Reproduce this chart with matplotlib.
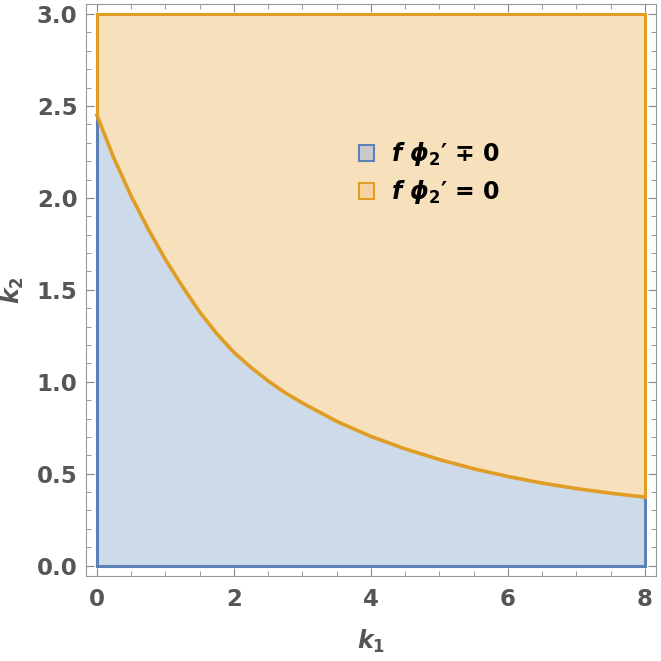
import matplotlib
matplotlib.use("Agg")
import matplotlib.pyplot as plt
from matplotlib.patches import Patch
from matplotlib.ticker import MultipleLocator

# boundary curve
k1_vals = [0.0, 0.25, 0.5, 0.75, 1.0, 1.25, 1.5, 1.75, 2.0, 2.25, 2.5, 2.75, 3.0,
           3.5, 4.0, 4.5, 5.0, 5.5, 6.0, 6.5, 7.0, 7.5, 8.0]
k2_vals = [2.45, 2.215, 2.01, 1.83, 1.665, 1.518, 1.38, 1.262, 1.16, 1.078, 1.005, 0.94, 0.885,
           0.785, 0.703, 0.635, 0.577, 0.527, 0.485, 0.449, 0.419, 0.394, 0.373]
k2_top = 3.0
legend_labels = [r"$f\ \phi_{\mathrm{2}}$′ ∓ 0",
                 r"$f\ \phi_{\mathrm{2}}$′ = 0"]

blue_edge = "#5e81b5"
blue_fill = "#cddaea"
orange_edge = "#e19c24"
orange_fill = "#f7e1bd"
gray = "#555555"

plt.rcParams["mathtext.fontset"] = "custom"
plt.rcParams["mathtext.it"] = "DejaVu Sans:italic:bold"
plt.rcParams["mathtext.rm"] = "DejaVu Sans:bold"
plt.rcParams["mathtext.bf"] = "DejaVu Sans:bold"

fig = plt.figure(figsize=(6.61, 6.61), dpi=100)
ax = fig.add_axes([0.130, 0.129, 0.862, 0.865])

# regions
ax.fill_between(k1_vals, 0, k2_vals, color=blue_fill, lw=0)
ax.fill_between(k1_vals, k2_vals, k2_top, color=orange_fill, lw=0)

# blue outline
ax.plot([0, 0], [k2_vals[0], 0], color=blue_edge, lw=2.2)
ax.plot([0, 8], [0, 0], color=blue_edge, lw=2.2)
ax.plot([8, 8], [0, k2_vals[-1]], color=blue_edge, lw=2.2)
# orange outline
ax.plot([0, 0], [k2_vals[0], k2_top], color=orange_edge, lw=2.2)
ax.plot([0, 8], [k2_top, k2_top], color=orange_edge, lw=2.2)
ax.plot([8, 8], [k2_vals[-1], k2_top], color=orange_edge, lw=2.2)
ax.plot(k1_vals, k2_vals, color=orange_edge, lw=2.6, solid_joinstyle="round")

ax.set_xlim(-0.16, 8.16)
ax.set_ylim(-0.055, 3.055)

ax.xaxis.set_major_locator(MultipleLocator(2))
ax.xaxis.set_minor_locator(MultipleLocator(0.5))
ax.yaxis.set_major_locator(MultipleLocator(0.5))
ax.yaxis.set_minor_locator(MultipleLocator(0.1))
ax.xaxis.set_major_formatter(plt.FuncFormatter(lambda v, p: f"{v:.0f}"))
ax.yaxis.set_major_formatter(plt.FuncFormatter(lambda v, p: f"{v:.1f}"))

ax.tick_params(which="both", direction="in", top=True, right=True, color="#888888")
ax.tick_params(which="major", length=6, width=0.8, labelsize=16.5, labelcolor=gray)
ax.tick_params(which="minor", length=3.5, width=0.6)
ax.tick_params(axis="x", which="major", pad=9)
ax.tick_params(axis="y", which="major", pad=6)
for lab in ax.get_xticklabels() + ax.get_yticklabels():
    lab.set_fontweight("bold")
    lab.set_family(["Liberation Sans Narrow", "DejaVu Sans"])
for sp in ax.spines.values():
    sp.set_color("#999999")
    sp.set_linewidth(0.8)

ax.set_xlabel(r"$k_1$", fontsize=17, color=gray, labelpad=12)
ax.set_ylabel(r"$k_2$", fontsize=17, color=gray, labelpad=8)

handles = [Patch(facecolor="#c9cacc", edgecolor=blue_edge, lw=1.5),
           Patch(facecolor="#f5d3a0", edgecolor=orange_edge, lw=1.5)]
ax.legend(handles, legend_labels, loc="center left", bbox_to_anchor=(0.442, 0.703),
          frameon=False, prop={"weight": "bold", "size": 17},
          handlelength=0.65, handleheight=0.65, handletextpad=0.7, labelspacing=0.45)

fig.savefig("out.png", dpi=100)
